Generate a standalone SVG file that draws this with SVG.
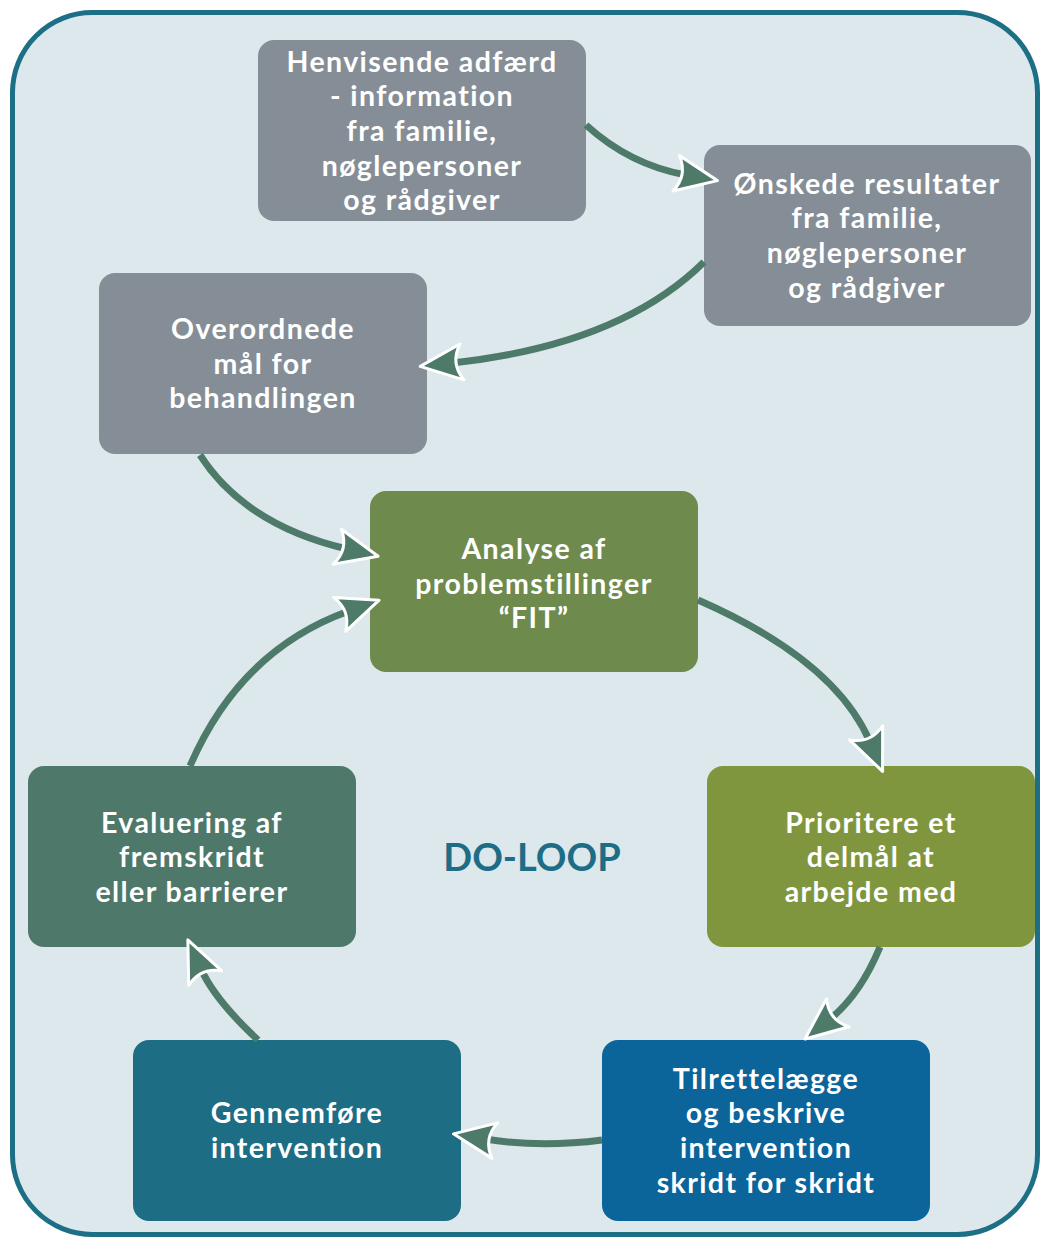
<svg xmlns="http://www.w3.org/2000/svg" width="1040" height="1237" viewBox="0 0 1040 1237">
<style>
.n text{font-family:Lato,"Open Sans","Liberation Sans",sans-serif;font-weight:bold;font-size:28.5px;letter-spacing:1.4px;fill:#ffffff;text-anchor:middle}
.c path{fill:none;stroke:#4e7a6a;stroke-width:7}
.gray{fill:#858e96}
</style>
<defs>
<marker id="ah" markerUnits="userSpaceOnUse" markerWidth="80" markerHeight="80" refX="0" refY="0" orient="auto" overflow="visible">
<path d="M32,0 L-10,-18 Q2,0 -10,18 Z" fill="#4e7a6a" stroke="#ffffff" stroke-width="3" stroke-linejoin="round"/>
</marker>
</defs>
<rect x="12.5" y="12.5" width="1025" height="1222" rx="80" fill="#dde8ed" stroke="#1d6f86" stroke-width="5"/>
<g class="n" id="henvisende">
<rect x="258" y="40" width="328" height="181" rx="16" class="gray"/>
<text x="422" y="72">Henvisende adfærd</text>
<text x="422" y="106">- information</text>
<text x="422" y="141">fra familie,</text>
<text x="422" y="176">nøglepersoner</text>
<text x="422" y="210">og rådgiver</text>
</g>
<g class="n" id="onskede">
<rect x="704" y="145" width="327" height="181" rx="16" class="gray"/>
<text x="867" y="194">Ønskede resultater</text>
<text x="867" y="228">fra familie,</text>
<text x="867" y="263">nøglepersoner</text>
<text x="867" y="298">og rådgiver</text>
</g>
<g class="n" id="overordnede">
<rect x="99" y="273" width="328" height="181" rx="16" class="gray"/>
<text x="263" y="339">Overordnede</text>
<text x="263" y="374">mål for</text>
<text x="263" y="408">behandlingen</text>
</g>
<g class="n" id="analyse">
<rect x="370" y="491" width="328" height="181" rx="16" fill="#6e8a4d"/>
<text x="534" y="559">Analyse af</text>
<text x="534" y="594">problemstillinger</text>
<text x="534" y="628">“FIT”</text>
</g>
<g class="n" id="prioritere">
<rect x="707" y="766" width="328" height="181" rx="16" fill="#80963e"/>
<text x="871" y="833">Prioritere et</text>
<text x="871" y="867">delmål at</text>
<text x="871" y="902">arbejde med</text>
</g>
<g class="n" id="tilrettelaegge">
<rect x="602" y="1040" width="328" height="181" rx="16" fill="#0b649a"/>
<text x="766" y="1089">Tilrettelægge</text>
<text x="766" y="1123">og beskrive</text>
<text x="766" y="1158">intervention</text>
<text x="766" y="1193">skridt for skridt</text>
</g>
<g class="n" id="gennemfore">
<rect x="133" y="1040" width="328" height="181" rx="16" fill="#1d6d84"/>
<text x="297" y="1123">Gennemføre</text>
<text x="297" y="1158">intervention</text>
</g>
<g class="n" id="evaluering">
<rect x="28" y="766" width="328" height="181" rx="16" fill="#4e7869"/>
<text x="192" y="833">Evaluering af</text>
<text x="192" y="867">fremskridt</text>
<text x="192" y="902">eller barrierer</text>
</g>
<g id="doloop">
<text x="532" y="871" font-family="Lato,'Open Sans','Liberation Sans',sans-serif" font-weight="bold" font-size="38" fill="#1d6d86" text-anchor="middle">DO-LOOP</text>
</g>
<g class="c" id="connectors">
<path d="M586,125 Q630,165 686,175" marker-end="url(#ah)"/>
<path d="M704,262 Q620,345 452,363" marker-end="url(#ah)"/>
<path d="M200,455 Q245,525 347,549" marker-end="url(#ah)"/>
<path d="M698,600 Q835,660 870,742" marker-end="url(#ah)"/>
<path d="M880,947 Q860,995 830,1019" marker-end="url(#ah)"/>
<path d="M602,1140 Q540,1148 485,1139" marker-end="url(#ah)"/>
<path d="M258,1040 Q215,1000 201,969" marker-end="url(#ah)"/>
<path d="M190,766 Q240,650 349,611" marker-end="url(#ah)"/>
</g>
</svg>
